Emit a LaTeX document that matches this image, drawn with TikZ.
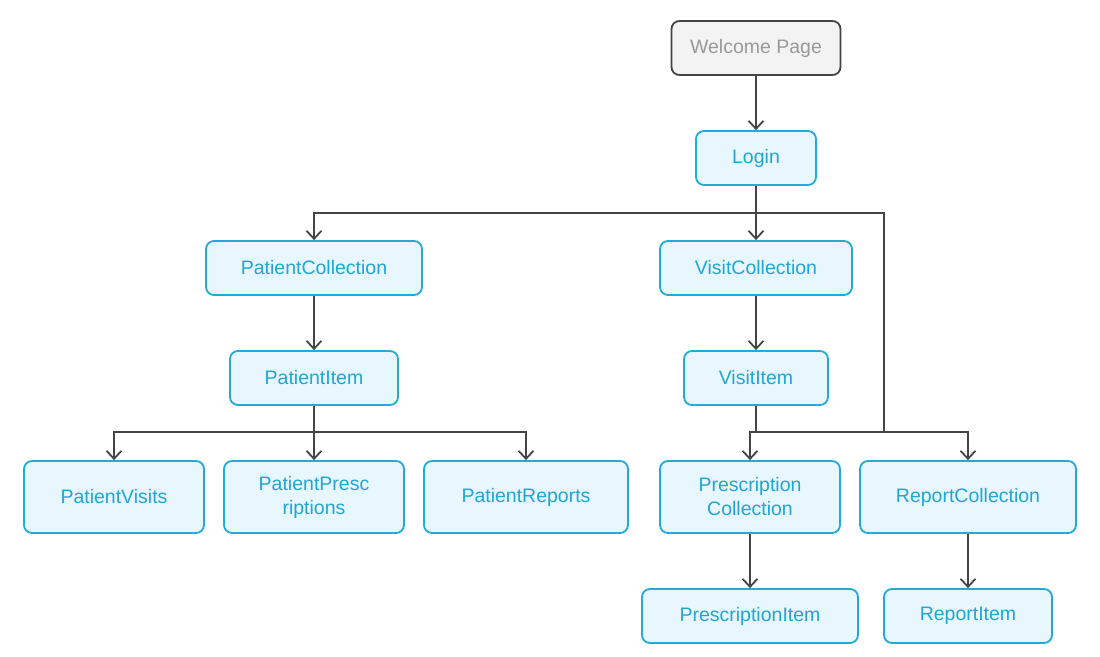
\documentclass[tikz,border=0pt]{standalone}
\usepackage{fontspec}
\setmainfont{Liberation Sans}
\usetikzlibrary{arrows.meta}
\definecolor{bluetxt}{HTML}{1FA6D6}
\definecolor{blueline}{HTML}{22AADB}
\definecolor{bluefill}{HTML}{E7F7FD}
\definecolor{greyfill}{HTML}{F3F3F3}
\definecolor{greyline}{HTML}{444444}
\definecolor{greytxt}{HTML}{999999}
\definecolor{conn}{HTML}{444444}
\begin{document}
\begin{tikzpicture}[x=1pt,y=-1pt,
  box/.style={draw=blueline,fill=bluefill,text=bluetxt,line width=1.8pt,rounded corners=8pt,
    inner sep=0pt,align=center,font=\fontsize{19.5}{24}\selectfont},
  startbox/.style={box,draw=greyline,fill=greyfill,text=greytxt},
  arr/.style={draw=conn,line width=1.8pt,-{Straight Barb[length=8pt,width=15pt,line width=1.8pt]}},
  ln/.style={draw=conn,line width=1.8pt}]
\useasboundingbox (0,0) rectangle (1100,656);
\node[startbox,minimum width=169pt,minimum height=54pt] (welcome) at (756,48) {Welcome Page};
\node[box,minimum width=120pt,minimum height=54pt] (login) at (756,158) {Login};
\node[box,minimum width=216pt,minimum height=54pt] (pcoll) at (314,268) {PatientCollection};
\node[box,minimum width=192pt,minimum height=54pt] (vcoll) at (756,268) {VisitCollection};
\node[box,minimum width=168pt,minimum height=54pt] (pitem) at (314,378) {PatientItem};
\node[box,minimum width=144pt,minimum height=54pt] (vitem) at (756,378) {VisitItem};
\node[box,minimum width=180pt,minimum height=72pt] (pvisits) at (114,497) {PatientVisits};
\node[box,minimum width=180pt,minimum height=72pt] (ppresc) at (314,497) {PatientPresc\\riptions};
\node[box,minimum width=204pt,minimum height=72pt] (preports) at (526,497) {PatientReports};
\node[box,minimum width=180pt,minimum height=72pt] (prescoll) at (750,497) {Prescription\\Collection};
\node[box,minimum width=216pt,minimum height=72pt] (repcoll) at (968,497) {ReportCollection};
\node[box,minimum width=216pt,minimum height=54pt] (prescitem) at (750,616) {PrescriptionItem};
\node[box,minimum width=168pt,minimum height=54pt] (repitem) at (968,616) {ReportItem};
\coordinate (busA) at (0,213);
\coordinate (busB) at (0,432);
\coordinate (side) at (884,0);
\draw[arr] (welcome.south) -- (login.north);
\draw[arr] (login.south) |- (pcoll.north |- busA) -- (pcoll.north);
\draw[arr] (login.south) -- (vcoll.north);
\draw[ln] (login.south |- busA) -| (side |- busB);
\draw[arr] (pcoll.south) -- (pitem.north);
\draw[arr] (vcoll.south) -- (vitem.north);
\draw[arr] (pitem.south) |- (pvisits.north |- busB) -- (pvisits.north);
\draw[arr] (pitem.south) -- (ppresc.north);
\draw[arr] (pitem.south |- busB) -| (preports.north);
\draw[arr] (vitem.south) |- (prescoll.north |- busB) -- (prescoll.north);
\draw[arr] (vitem.south |- busB) -| (repcoll.north);
\draw[arr] (prescoll.south) -- (prescitem.north);
\draw[arr] (repcoll.south) -- (repitem.north);
\end{tikzpicture}
\end{document}
